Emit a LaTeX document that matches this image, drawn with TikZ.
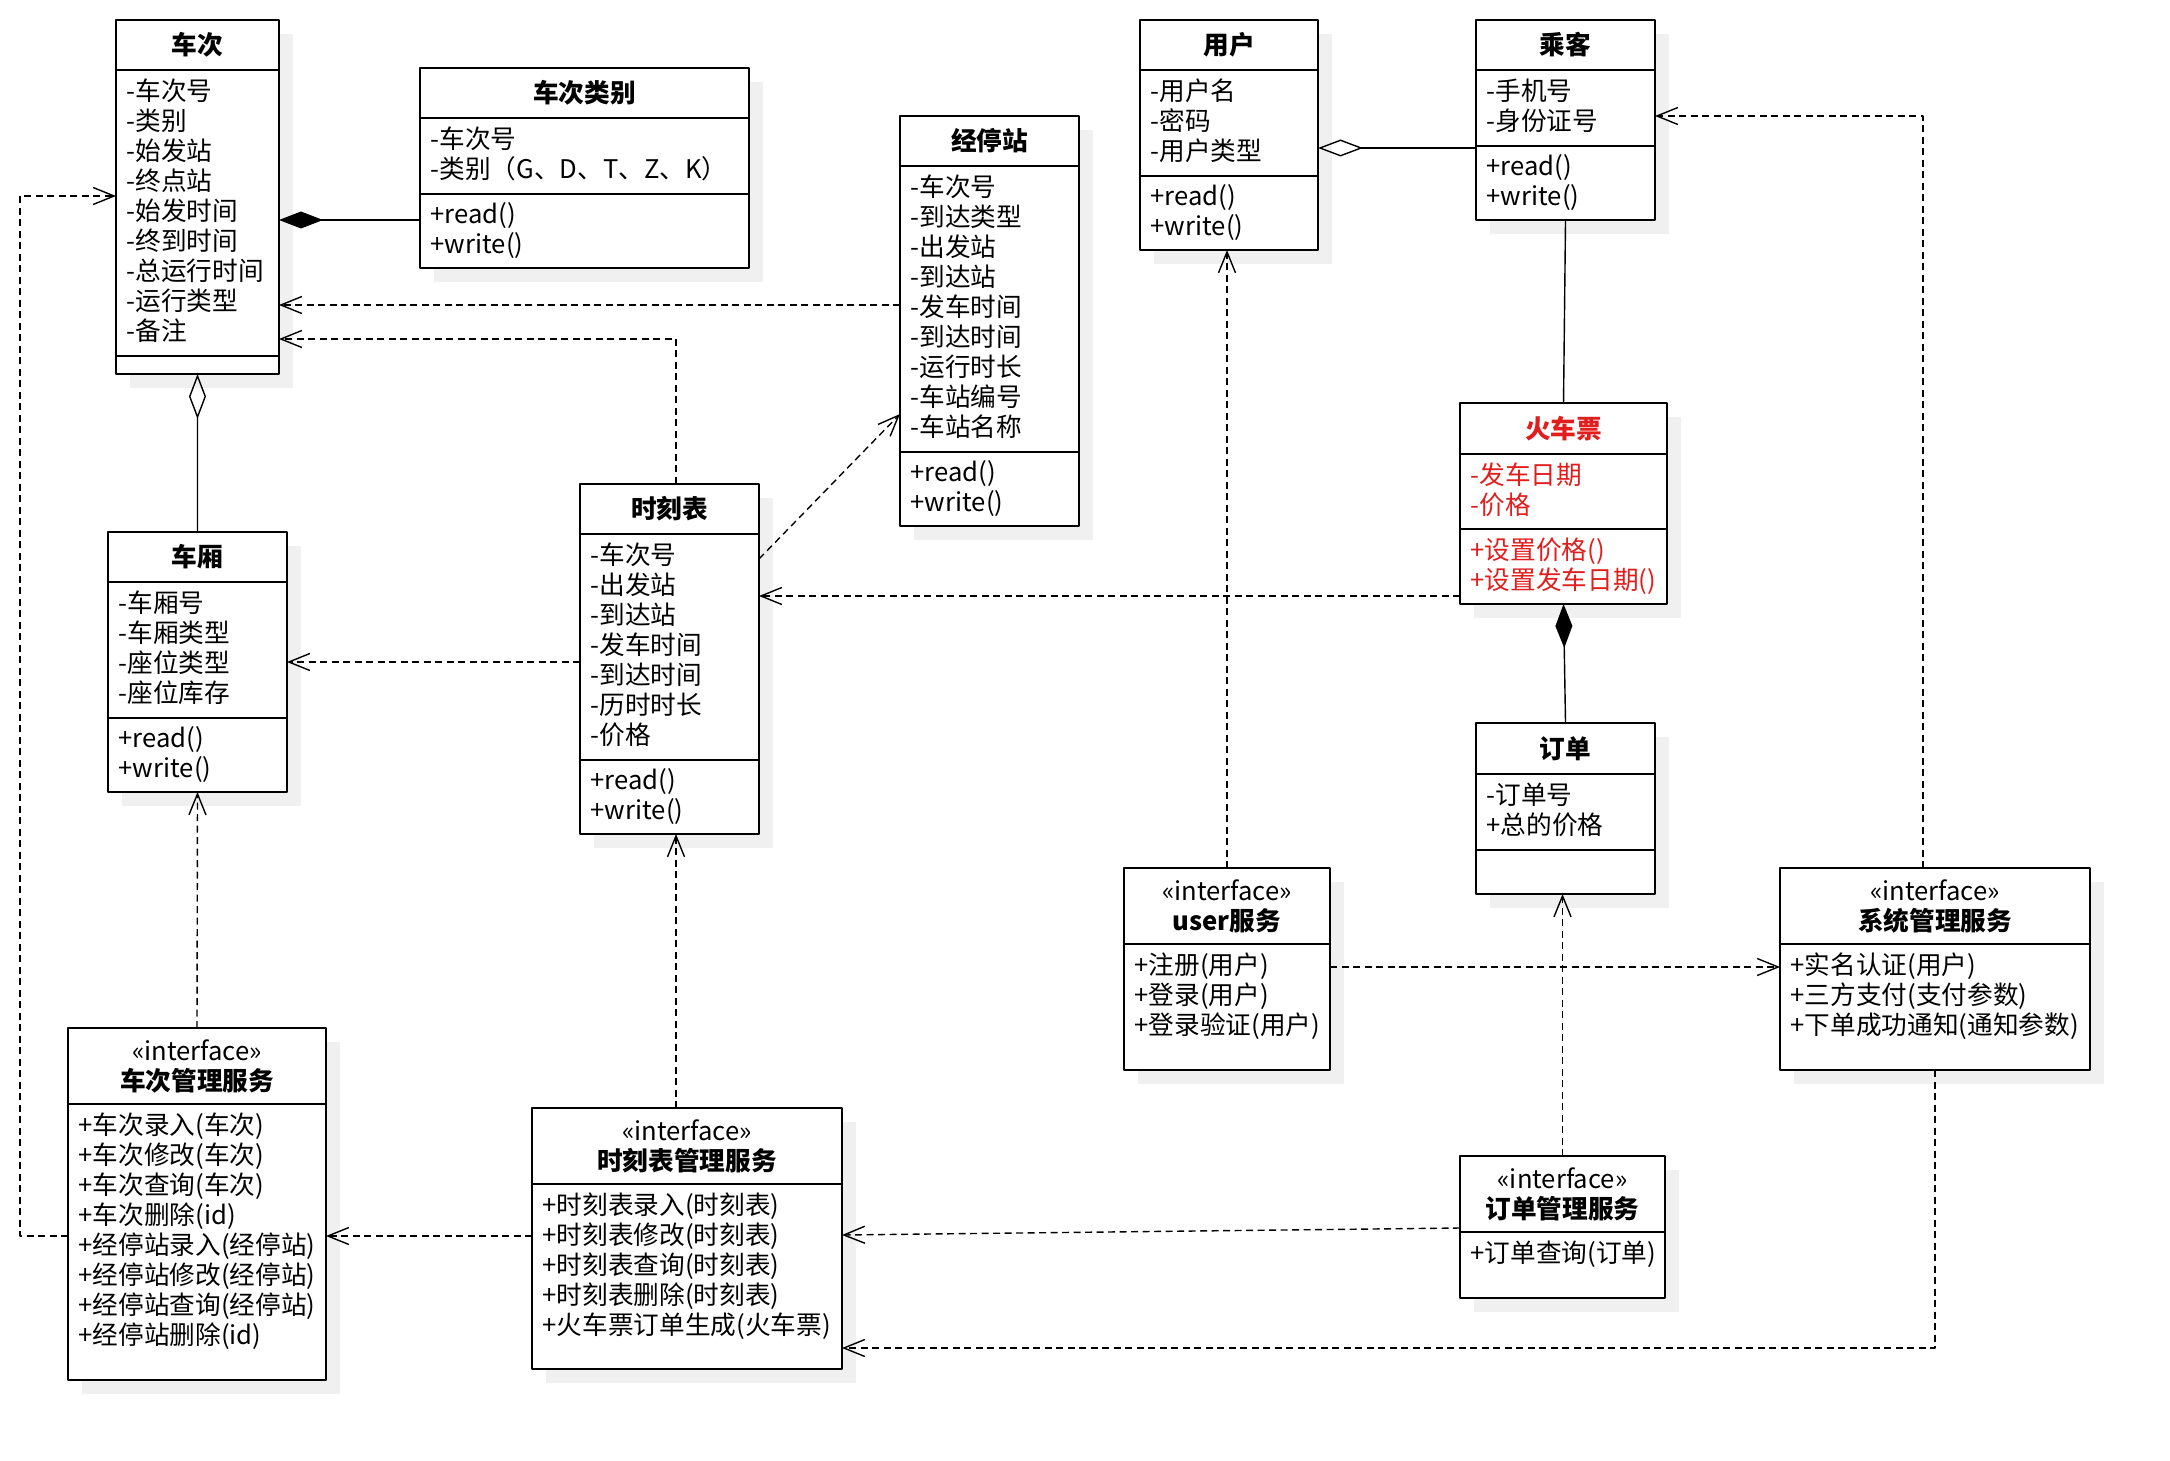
\documentclass[tikz,border=0pt]{standalone}
\usepackage{fontspec}
\setmainfont{Noto Sans CJK SC}
\usepackage{tikz}
\usetikzlibrary{arrows.meta,shadows}
\definecolor{ticketred}{RGB}{225,30,30}
\tikzset{
  every picture/.style={line join=round, >=Stealth},
  cls/.style={draw, line width=0.25mm, fill=white, anchor=north west, inner sep=0pt, outer sep=0pt,
    drop shadow={shadow xshift=1.4mm, shadow yshift=-1.4mm, fill=black!6, opacity=1}},
  sep/.style={line width=0.25mm},
  ctitle/.style={font=\fontsize{7.3}{8.54}\selectfont\bfseries, inner sep=0pt, align=center},
  members/.style={font=\fontsize{7.3}{8.54}\selectfont, anchor=north west, inner sep=0pt, align=left},
  dep/.style={line width=0.14mm, dash pattern=on 0.7mm off 0.45mm, -{Straight Barb[length=2.1mm,width=1.7mm]}},
  assoc/.style={line width=0.14mm},
  compo/.style={line width=0.14mm, {Diamond[length=4.4mm,width=1.7mm]}-},
  aggr/.style={line width=0.14mm, {Diamond[open,length=4.5mm,width=1.7mm]}-},
}

\begin{document}
\begin{tikzpicture}[x=0.1mm,y=-0.1mm]
\useasboundingbox (0,0) rectangle (2170,1460);
% 车次
\node[cls, minimum width=16.3mm, minimum height=35.4mm] (checi) at (116,20) {};
\draw[sep] (checi.west |- 0,70) -- (checi.east |- 0,70) (checi.west |- 0,356) -- (checi.east |- 0,356);
\node[ctitle] (checi-t) at (197.5,45) {车次};
\node[members] (checi-a) at (126,78) {-车次号\\-类别\\-始发站\\-终点站\\-始发时间\\-终到时间\\-总运行时间\\-运行类型\\-备注};
% 车次类别
\node[cls, minimum width=32.9mm, minimum height=20mm] (cclb) at (420,68) {};
\draw[sep] (cclb.west |- 0,118) -- (cclb.east |- 0,118) (cclb.west |- 0,194) -- (cclb.east |- 0,194);
\node[ctitle] (cclb-t) at (584.5,93) {车次类别};
\node[members] (cclb-a) at (430,126) {-车次号\\-类别（G、D、T、Z、K）};
\node[members] (cclb-m) at (430,202) {+read()\\+write()};
% 经停站
\node[cls, minimum width=17.9mm, minimum height=41mm] (jtz) at (900,116) {};
\draw[sep] (jtz.west |- 0,166) -- (jtz.east |- 0,166) (jtz.west |- 0,452) -- (jtz.east |- 0,452);
\node[ctitle] (jtz-t) at (989.5,141) {经停站};
\node[members] (jtz-a) at (910,174) {-车次号\\-到达类型\\-出发站\\-到达站\\-发车时间\\-到达时间\\-运行时长\\-车站编号\\-车站名称};
\node[members] (jtz-m) at (910,460) {+read()\\+write()};
% 用户
\node[cls, minimum width=17.8mm, minimum height=23mm] (yonghu) at (1140,20) {};
\draw[sep] (yonghu.west |- 0,70) -- (yonghu.east |- 0,70) (yonghu.west |- 0,176) -- (yonghu.east |- 0,176);
\node[ctitle] (yonghu-t) at (1229,45) {用户};
\node[members] (yonghu-a) at (1150,78) {-用户名\\-密码\\-用户类型};
\node[members] (yonghu-m) at (1150,184) {+read()\\+write()};
% 乘客
\node[cls, minimum width=17.9mm, minimum height=20mm] (chengke) at (1476,20) {};
\draw[sep] (chengke.west |- 0,70) -- (chengke.east |- 0,70) (chengke.west |- 0,146) -- (chengke.east |- 0,146);
\node[ctitle] (chengke-t) at (1565.5,45) {乘客};
\node[members] (chengke-a) at (1486,78) {-手机号\\-身份证号};
\node[members] (chengke-m) at (1486,154) {+read()\\+write()};
% 火车票
\node[cls, minimum width=20.7mm, minimum height=20.1mm] (piao) at (1460,403) {};
\draw[sep] (piao.west |- 0,454) -- (piao.east |- 0,454) (piao.west |- 0,529) -- (piao.east |- 0,529);
\node[ctitle, text=ticketred] (piao-t) at (1563.5,428.5) {火车票};
\node[members, text=ticketred] (piao-a) at (1470,462) {-发车日期\\-价格};
\node[members, text=ticketred] (piao-m) at (1470,537) {+设置价格()\\+设置发车日期()};
% 车厢
\node[cls, minimum width=17.9mm, minimum height=26mm] (chexiang) at (108,532) {};
\draw[sep] (chexiang.west |- 0,582) -- (chexiang.east |- 0,582) (chexiang.west |- 0,718) -- (chexiang.east |- 0,718);
\node[ctitle] (chexiang-t) at (197.5,557) {车厢};
\node[members] (chexiang-a) at (118,590) {-车厢号\\-车厢类型\\-座位类型\\-座位库存};
\node[members] (chexiang-m) at (118,726) {+read()\\+write()};
% 时刻表
\node[cls, minimum width=17.9mm, minimum height=35mm] (skb) at (580,484) {};
\draw[sep] (skb.west |- 0,534) -- (skb.east |- 0,534) (skb.west |- 0,760) -- (skb.east |- 0,760);
\node[ctitle] (skb-t) at (669.5,509) {时刻表};
\node[members] (skb-a) at (590,542) {-车次号\\-出发站\\-到达站\\-发车时间\\-到达时间\\-历时时长\\-价格};
\node[members] (skb-m) at (590,768) {+read()\\+write()};
% 订单
\node[cls, minimum width=17.9mm, minimum height=17.1mm] (dingdan) at (1476,723) {};
\draw[sep] (dingdan.west |- 0,774) -- (dingdan.east |- 0,774) (dingdan.west |- 0,850) -- (dingdan.east |- 0,850);
\node[ctitle] (dingdan-t) at (1565.5,748.5) {订单};
\node[members] (dingdan-a) at (1486,782) {-订单号\\+总的价格};
% interfaces
\node[cls, minimum width=25.8mm, minimum height=35.2mm] (ccgl) at (68,1028) {};
\draw[sep] (ccgl.west |- 0,1104) -- (ccgl.east |- 0,1104);
\node[ctitle] (ccgl-t) at (197,1066) {{\mdseries«interface»}\\车次管理服务};
\node[members] (ccgl-m) at (78,1112) {+车次录入(车次)\\+车次修改(车次)\\+车次查询(车次)\\+车次删除(id)\\+经停站录入(经停站)\\+经停站修改(经停站)\\+经停站查询(经停站)\\+经停站删除(id)};
\node[cls, minimum width=31mm, minimum height=26.1mm] (skgl) at (532,1108) {};
\draw[sep] (skgl.west |- 0,1184) -- (skgl.east |- 0,1184);
\node[ctitle] (skgl-t) at (687,1146) {{\mdseries«interface»}\\时刻表管理服务};
\node[members] (skgl-m) at (542,1192) {+时刻表录入(时刻表)\\+时刻表修改(时刻表)\\+时刻表查询(时刻表)\\+时刻表删除(时刻表)\\+火车票订单生成(火车票)};
\node[cls, minimum width=20.6mm, minimum height=20.2mm] (usersvc) at (1124,868) {};
\draw[sep] (usersvc.west |- 0,944) -- (usersvc.east |- 0,944);
\node[ctitle] (usersvc-t) at (1227,906) {{\mdseries«interface»}\\user服务};
\node[members] (usersvc-m) at (1134,952) {+注册(用户)\\+登录(用户)\\+登录验证(用户)};
\node[cls, minimum width=31mm, minimum height=20.2mm] (xtgl) at (1780,868) {};
\draw[sep] (xtgl.west |- 0,944) -- (xtgl.east |- 0,944);
\node[ctitle] (xtgl-t) at (1935,906) {{\mdseries«interface»}\\系统管理服务};
\node[members] (xtgl-m) at (1790,952) {+实名认证(用户)\\+三方支付(支付参数)\\+下单成功通知(通知参数)};
\node[cls, minimum width=20.5mm, minimum height=14.2mm] (ddgl) at (1460,1156) {};
\draw[sep] (ddgl.west |- 0,1232) -- (ddgl.east |- 0,1232);
\node[ctitle] (ddgl-t) at (1562.5,1194) {{\mdseries«interface»}\\订单管理服务};
\node[members] (ddgl-m) at (1470,1240) {+订单查询(订单)};
% associations
\draw[compo] (checi.east |- 0,220) -- (cclb.west |- 0,220);
\draw[aggr] (checi.south) -- (chexiang.north);
\draw[aggr] (yonghu.east |- 0,148) -- (chengke.west |- 0,148);
\draw[assoc] (chengke.south) -- (piao.north);
\draw[compo] (piao.south) -- (dingdan.north);
% dependencies
\draw[dep] (jtz.west |- 0,305) -- (checi.east |- 0,305);
\draw[dep] (skb.north -| 676,0) |- (checi.east |- 0,339);
\draw[dep] (skb.east |- 0,559) -- (jtz.west |- 0,414);
\draw[dep] (skb.west |- 0,662) -- (chexiang.east |- 0,662);
\draw[dep] (piao.west |- 0,596) -- (skb.east |- 0,596);
\draw[dep] (ccgl.north) -- (chexiang.south);
\draw[dep] (skgl.north -| 676,0) -- (skb.south -| 676,0);
\draw[dep] (ccgl.west |- 0,1236) -- ++(-48,0) |- (checi.west |- 0,196);
\draw[dep] (skgl.west |- 0,1236) -- (ccgl.east |- 0,1236);
\draw[dep] (ddgl.west |- 0,1228) -- (skgl.east |- 0,1235);
\draw[dep] (xtgl.south) |- (skgl.east |- 0,1348);
\draw[dep] (usersvc.east |- 0,967) -- (xtgl.west |- 0,967);
\draw[dep] (usersvc.north) -- (yonghu.south -| usersvc.north);
\draw[dep] (xtgl.north -| 1923,0) |- (chengke.east |- 0,116);
\draw[dep] (ddgl.north) -- (dingdan.south -| ddgl.north);
\end{tikzpicture}
\end{document}
